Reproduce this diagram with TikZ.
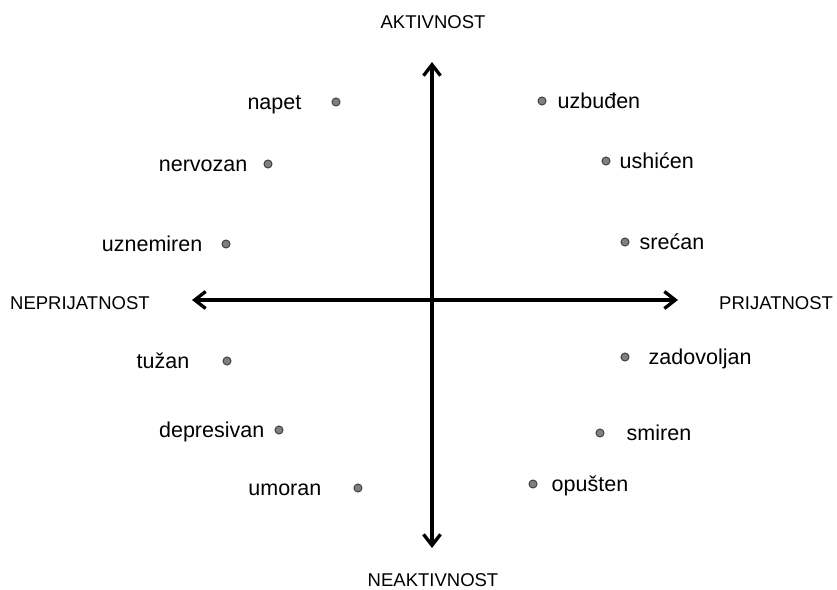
\documentclass[tikz,border=0pt]{standalone}
\usepackage{fontspec}
\setmainfont{Liberation Sans}
\usetikzlibrary{positioning,arrows.meta}

\begin{document}
\begin{tikzpicture}[
  x=1pt, y=-1pt,
  every node/.style={font=\fontsize{21.5}{24}\selectfont},
  dot/.style={circle,draw=black!75,fill=black!50,line width=1pt,
              minimum size=8pt,inner sep=0pt},
  lbl/.style={inner sep=0pt},
  tol/.style={anchor=base east,yshift=-7pt},
  tor/.style={anchor=base west,yshift=-7pt},
  axlbl/.style={inner sep=0pt,font=\fontsize{18.5}{20}\selectfont},
  ax/.style={{Straight Barb[length=11pt,width=17pt]}-{Straight Barb[length=11pt,width=17pt]},
             line width=3.3pt}
]
\useasboundingbox (0,0) rectangle (837,589);

% axes
\coordinate (top) at (432,62);
\coordinate (bot) at (432,548);
\coordinate (lft) at (192,300);
\coordinate (rgt) at (678,300);
\draw[ax] (bot) -- (top);
\draw[ax] (lft) -- (rgt);

\node[axlbl] (akt) at (433,22) {AKTIVNOST};
\node[axlbl] (neakt) at (433,580) {NEAKTIVNOST};
\node[axlbl,anchor=west] (nepr) at (10,303) {NEPRIJATNOST};
\node[axlbl,anchor=west] (prij) at (719,303) {PRIJATNOST};

% left side
\node[dot] (napet) at (336,102) {};
\node[dot] (nerv) at (268,164) {};
\node[dot] (uznem) at (226,244) {};
\node[dot] (tuz) at (227,361) {};
\node[dot] (depr) at (279,430) {};
\node[dot] (umor) at (358,488) {};

\node[lbl, left=30pt of napet, tol] (napetl) {napet};
\node[lbl, left=16pt of nerv, tol] (nervl) {nervozan};
\node[lbl, left=19pt of uznem, tol] (uzneml) {uznemiren};
\node[lbl, left=33pt of tuz, tol] (tuzl) {tužan};
\node[lbl, left=10pt of depr, tol] (deprl) {depresivan};
\node[lbl, left=32pt of umor, tol] (umorl) {umoran};

% right side
\node[dot] (uzb) at (542,101) {};
\node[dot] (ush) at (606,161) {};
\node[dot] (sre) at (625,242) {};
\node[dot] (zad) at (625,357) {};
\node[dot] (smi) at (600,433) {};
\node[dot] (opu) at (533,484) {};

\node[lbl, right=11pt of uzb, tor] (uzbl) {uzbuđen};
\node[lbl, right=9pt of ush, tor] (ushl) {ushićen};
\node[lbl, right=10pt of sre, tor] (srel) {srećan};
\node[lbl, right=19pt of zad, tor] (zadl) {zadovoljan};
\node[lbl, right=22pt of smi, tor] (smil) {smiren};
\node[lbl, right=14pt of opu, tor] (opul) {opušten};
\end{tikzpicture}
\end{document}
